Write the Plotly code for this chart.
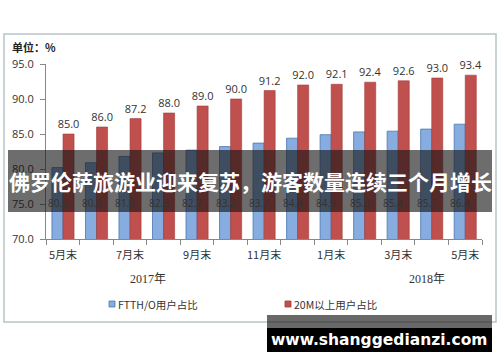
import plotly.graph_objects as go

categories = ["2017-05", "2017-06", "2017-07", "2017-08", "2017-09", "2017-10", "2017-11",
              "2017-12", "2018-01", "2018-02", "2018-03", "2018-04", "2018-05"]
tick_labels = ["5月末", "", "7月末", "", "9月末", "", "11月末", "", "1月末", "", "3月末", "", "5月末"]
ftth_values = [80.2, 80.9, 81.8, 82.3, 82.7, 83.2, 83.7, 84.4, 84.9, 85.3, 85.4, 85.7, 86.4]
m20_values = [85.0, 86.0, 87.2, 88.0, 89.0, 90.0, 91.2, 92.0, 92.1, 92.4, 92.6, 93.0, 93.4]
year_labels = ["2017年", "2018年"]
series_names = ["FTTH/O用户占比", "20M以上用户占比"]
series_colors = ["#86ace0", "#c0504d"]
series_edges = ["#4a76b0", "#a03c3a"]
banner_text = "佛罗伦萨旅游业迎来复苏，游客数量连续三个月增长"
watermark = "www.shanggedianzi.com"

W, H = 500, 362
L, R, T, B = 46, 18, 64, 123
pw, ph = W - L - R, H - T - B

def px(x):
    return (x - L) / pw

def py(y):
    return (H - B - y) / ph

def note(x, y, text, font, xanchor="center"):
    return dict(x=px(x), y=py(y), xref="paper", yref="paper", text=text, showarrow=False,
                xanchor=xanchor, yanchor="middle", font=font)

fig = go.Figure()
fig.add_trace(go.Bar(
    x=categories, y=ftth_values, name=series_names[0],
    marker=dict(color=series_colors[0], line=dict(color=series_edges[0], width=0.8)),
))
fig.add_trace(go.Bar(
    x=categories, y=m20_values, name=series_names[1],
    marker=dict(color=series_colors[1], line=dict(color=series_edges[1], width=0.6)),
    text=[f"{v:.1f}" for v in m20_values], textposition="outside", constraintext="none",
    textfont=dict(size=11, color="#333333", family="Open Sans, DejaVu Sans"),
    cliponaxis=False,
))

annotations = []
for c, v in zip(categories, ftth_values):
    annotations.append(dict(x=c, y=75.1, xref="x", yref="y", text=f"{v:.1f}", showarrow=False,
                            xanchor="center", yanchor="middle", xshift=-5,
                            font=dict(size=10, color="#333333", family="Open Sans, DejaVu Sans")))

yr_font = dict(size=12, color="#333333", family="Liberation Serif, Noto Sans CJK SC")
annotations.append(note(148, 279, year_labels[0], yr_font))
annotations.append(note(427, 279, year_labels[1], yr_font))
annotations.append(note(10, 47, "<b>单位：%</b>", dict(size=11, color="#222222", family="Noto Sans CJK SC"),
                        xanchor="left"))

leg_x = [112, 288]
for i in range(2):
    annotations.append(note(leg_x[i] + 4, 304, series_names[i],
                            dict(size=10.5, color="#333333", family="Noto Sans CJK SC"), xanchor="left"))

annotations.append(note(250, 181, "<b>" + banner_text + "</b>",
                        dict(size=21, color="white", family="Noto Sans CJK SC")))
annotations.append(note(379, 340, "<b>" + watermark + "</b>",
                        dict(size=15.5, color="white", family="DejaVu Sans")))

shapes = [
    dict(type="rect", xref="paper", yref="paper", x0=px(4), x1=px(496), y0=py(322), y1=py(34),
         line=dict(color="#b8c4c8", width=1.5), fillcolor="rgba(0,0,0,0)", layer="below"),
]
for i in range(2):
    shapes.append(dict(type="rect", xref="paper", yref="paper",
                       x0=px(leg_x[i] - 3), x1=px(leg_x[i] + 3), y0=py(307), y1=py(301),
                       line=dict(color=series_edges[i], width=0.8), fillcolor=series_colors[i]))
shapes += [
    dict(type="rect", xref="paper", yref="paper", x0=px(8), x1=px(492), y0=py(212), y1=py(150),
         line=dict(width=0), fillcolor="rgba(20,20,20,0.62)", layer="above"),
    dict(type="rect", xref="paper", yref="paper", x0=px(267), x1=px(492), y0=py(328), y1=py(315),
         line=dict(width=0), fillcolor="rgba(40,40,40,0.7)", layer="above"),
    dict(type="rect", xref="paper", yref="paper", x0=px(267), x1=px(492), y0=py(352), y1=py(328),
         line=dict(width=0), fillcolor="#000000", layer="above"),
]

fig.update_layout(
    width=W, height=H,
    margin=dict(l=L, r=R, t=T, b=B),
    paper_bgcolor="white", plot_bgcolor="white",
    barmode="group", bargap=0.34, bargroupgap=0.0,
    showlegend=False,
    xaxis=dict(type="category", tickvals=categories, ticktext=tick_labels, tickson="boundaries",
               tickangle=0, automargin=False, ticklabelstandoff=6,
               ticks="outside", ticklen=5, tickcolor="#888888", showline=True, linecolor="#888888",
               showgrid=False, tickfont=dict(size=11, color="#333333", family="Noto Sans CJK SC")),
    yaxis=dict(range=[70, 95], dtick=5, tickformat=".1f", ticks="outside", ticklen=5, automargin=False,
               ticklabelstandoff=4,
               tickcolor="#888888", showline=True, linecolor="#888888", showgrid=False, zeroline=False,
               tickfont=dict(size=11, color="#333333", family="Open Sans, DejaVu Sans")),
    annotations=annotations,
    shapes=shapes,
)

fig.write_html("out.html", config={"displayModeBar": False},
               post_script="document.body.style.margin='0';")
